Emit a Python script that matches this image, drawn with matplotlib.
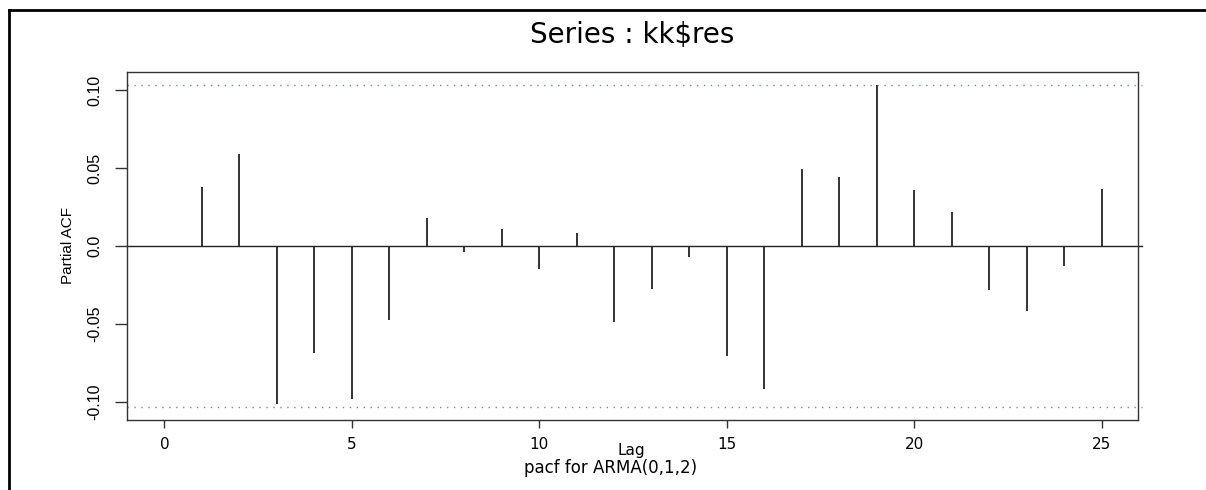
import matplotlib.pyplot as plt
from matplotlib.lines import Line2D

# partial autocorrelations
lags = [1, 2, 3, 4, 5, 6, 7, 8, 9, 10, 11, 12, 13, 14, 15, 16, 17, 18, 19, 20, 21, 22, 23, 24, 25]
pacf_vals = [0.0376, 0.0588, -0.1013, -0.0684, -0.0983, -0.0474, 0.0178, -0.0037, 0.0110, -0.0149,
             0.0081, -0.0489, -0.0278, -0.0073, -0.0703, -0.0917, 0.0491, 0.0442, 0.1030, 0.0359,
             0.0216, -0.0282, -0.0417, -0.0128, 0.0363]
ci = 0.1034
yticks = [-0.10, -0.05, 0.0, 0.05, 0.10]
ytick_labels = ["-0.10", "-0.05", "0.0", "0.05", "0.10"]
xticks = [0, 5, 10, 15, 20, 25]

narrow = ["Liberation Sans Narrow", "Liberation Sans", "DejaVu Sans"]
wide = "DejaVu Sans"

fig = plt.figure(figsize=(12.06, 4.9), dpi=100)
ax = fig.add_axes([127 / 1206, 1 - 420 / 490, (1138 - 127) / 1206, (420 - 72) / 490])

# stems
ax.vlines(lags, 0, pacf_vals, colors="#333333", linewidth=1.4)
ax.axhline(0, color="#222222", linewidth=1.0, xmax=1.004, clip_on=False)
for c in (ci, -ci):
    ax.axhline(c, color="#6a8db5", linewidth=1.0, linestyle=(0, (1, 4)), xmax=1.004, clip_on=False)

ax.set_xlim(-1.0, 25.97)
ax.set_ylim(-0.1115, 0.1115)

for s in ax.spines.values():
    s.set_color("#333333")
    s.set_linewidth(1.0)

ax.set_yticks(yticks)
ax.set_yticklabels(ytick_labels, rotation=90, va="center", family=narrow, fontsize=11.5)
ax.set_xticks(xticks)
ax.set_xticklabels([str(x) for x in xticks], family=wide, fontsize=11)
ax.tick_params(axis="y", direction="out", length=9, width=1, color="#333333", pad=9)
ax.tick_params(axis="x", direction="out", length=6, width=1, color="#333333", pad=6)

ax.set_ylabel("Partial ACF", family=narrow, fontsize=11, labelpad=9)

fig.text(632 / 1206, 1 - 35 / 490, "Series : kk$res", ha="center", va="center",
         family=wide, fontsize=20)
fig.text(631 / 1206, 1 - 450 / 490, "Lag", ha="center", va="center",
         family=wide, fontsize=11)
fig.text(611 / 1206, 1 - 468 / 490, "pacf for ARMA(0,1,2)", ha="center", va="center",
         family=wide, fontsize=12)

# outer frame (top and left edge of the original window)
fig.add_artist(Line2D([9 / 1206, 9 / 1206], [0, 1 - 10 / 490], transform=fig.transFigure,
                      color="black", linewidth=2))
fig.add_artist(Line2D([9 / 1206, 1], [1 - 10 / 490, 1 - 10 / 490], transform=fig.transFigure,
                      color="black", linewidth=2))

fig.savefig("out.png", dpi=100)
